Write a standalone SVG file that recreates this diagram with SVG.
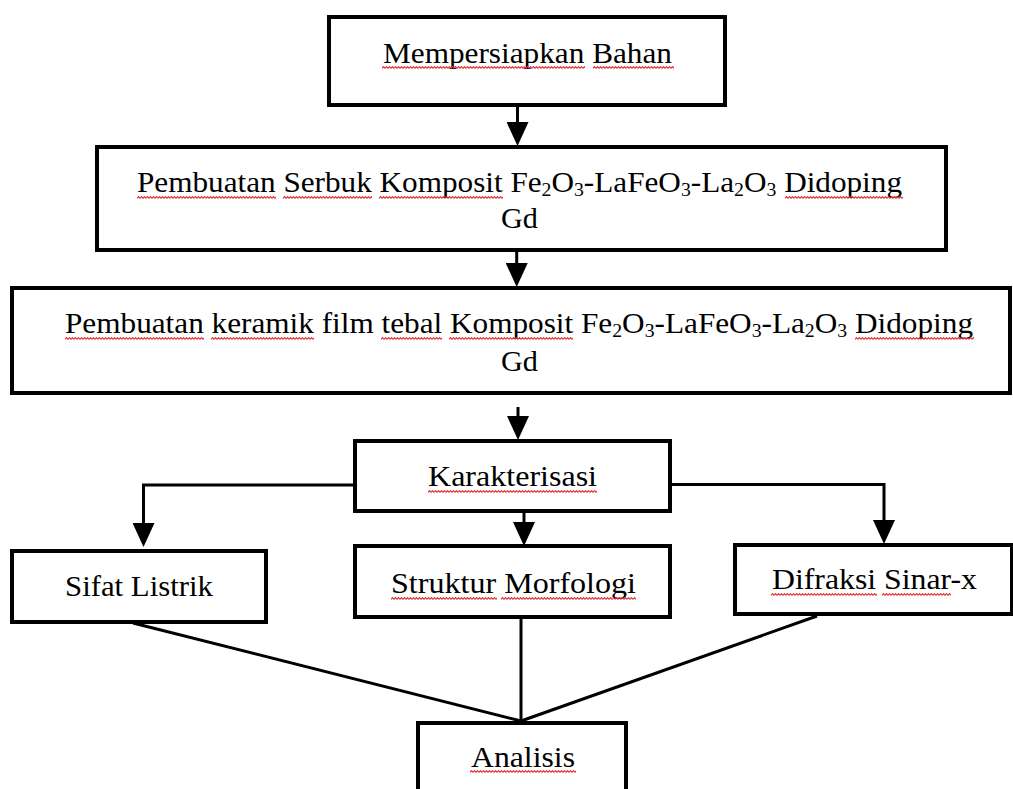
<svg xmlns="http://www.w3.org/2000/svg" width="1013" height="789" viewBox="0 0 1013 789">
  <style>
    .box { fill: #ffffff; stroke: #000000; stroke-width: 4; }
    .t { font-family: "Liberation Serif", "Times New Roman", serif; font-size: 30px; fill: #000000; }
    .sub { font-size: 19px; }
    .ln { fill: none; stroke: #000000; stroke-width: 3; }
    .sq { fill: url(#wave); }
  </style>
  <defs>
    <marker id="arr" markerUnits="userSpaceOnUse" markerWidth="24" markerHeight="22" refX="4" refY="11" orient="auto">
      <path d="M0,0 L24,11 L0,22 z" fill="#000000"/>
    </marker>
    <pattern id="wave" width="3" height="3" patternUnits="userSpaceOnUse">
      <path d="M0,2.4 L1.5,0.6 L3,2.4" fill="none" stroke="#e02b32" stroke-width="1.1"/>
    </pattern>
  </defs>
  <rect width="1013" height="789" fill="#ffffff"/>

  <g id="connectors">
    <line class="ln" x1="517.5" y1="107" x2="517.5" y2="126" marker-end="url(#arr)"/>
    <line class="ln" x1="516.7" y1="251" x2="516.7" y2="267" marker-end="url(#arr)"/>
    <line class="ln" x1="518" y1="407" x2="518" y2="420" marker-end="url(#arr)"/>
    <polyline class="ln" points="355,485 143.5,485 143.5,527" marker-end="url(#arr)"/>
    <polyline class="ln" points="670,484.5 884,484.5 884,524" marker-end="url(#arr)"/>
    <line class="ln" x1="524" y1="513" x2="524" y2="526" marker-end="url(#arr)"/>
    <line class="ln" x1="133" y1="623" x2="521" y2="721"/>
    <line class="ln" x1="521" y1="618" x2="521" y2="721"/>
    <line class="ln" x1="817" y1="616" x2="521" y2="721"/>
  </g>

  <g id="n-bahan">
    <rect class="box" x="329" y="17" width="396" height="88"/>
    <text class="t" x="383" y="63" textLength="289" lengthAdjust="spacingAndGlyphs">Mempersiapkan Bahan</text>
    <rect class="sq" transform="translate(382,66)" width="203" height="3"/>
    <rect class="sq" transform="translate(593,66)" width="81" height="3"/>
  </g>

  <g id="n-serbuk">
    <rect class="box" x="97" y="147" width="849" height="103"/>
    <text class="t" x="137" y="192" textLength="765" lengthAdjust="spacingAndGlyphs">Pembuatan Serbuk Komposit Fe<tspan class="sub" dy="4">2</tspan><tspan dy="-4">O</tspan><tspan class="sub" dy="4">3</tspan><tspan dy="-4">-LaFeO</tspan><tspan class="sub" dy="4">3</tspan><tspan dy="-4">-La</tspan><tspan class="sub" dy="4">2</tspan><tspan dy="-4">O</tspan><tspan class="sub" dy="4">3</tspan><tspan dy="-4"> Didoping</tspan></text>
    <text class="t" x="501" y="228" textLength="37" lengthAdjust="spacingAndGlyphs">Gd</text>
    <rect class="sq" transform="translate(137,196)" width="139" height="3"/>
    <rect class="sq" transform="translate(283,196)" width="89" height="3"/>
    <rect class="sq" transform="translate(379,196)" width="124" height="3"/>
    <rect class="sq" transform="translate(785,196)" width="118" height="3"/>
  </g>

  <g id="n-keramik">
    <rect class="box" x="12" y="288" width="998" height="105"/>
    <text class="t" x="65" y="333" textLength="908" lengthAdjust="spacingAndGlyphs">Pembuatan keramik film tebal Komposit Fe<tspan class="sub" dy="4">2</tspan><tspan dy="-4">O</tspan><tspan class="sub" dy="4">3</tspan><tspan dy="-4">-LaFeO</tspan><tspan class="sub" dy="4">3</tspan><tspan dy="-4">-La</tspan><tspan class="sub" dy="4">2</tspan><tspan dy="-4">O</tspan><tspan class="sub" dy="4">3</tspan><tspan dy="-4"> Didoping</tspan></text>
    <text class="t" x="501" y="371" textLength="37" lengthAdjust="spacingAndGlyphs">Gd</text>
    <rect class="sq" transform="translate(65,337)" width="139" height="3"/>
    <rect class="sq" transform="translate(211,337)" width="103" height="3"/>
    <rect class="sq" transform="translate(381,337)" width="61" height="3"/>
    <rect class="sq" transform="translate(449,337)" width="124" height="3"/>
    <rect class="sq" transform="translate(855,337)" width="119" height="3"/>
  </g>

  <g id="n-karakterisasi">
    <rect class="box" x="355" y="441" width="315" height="70"/>
    <text class="t" x="428" y="486" textLength="169" lengthAdjust="spacingAndGlyphs">Karakterisasi</text>
    <rect class="sq" transform="translate(428,490)" width="169" height="3"/>
  </g>

  <g id="n-listrik">
    <rect class="box" x="12" y="551" width="254" height="71"/>
    <text class="t" x="65" y="596" textLength="148" lengthAdjust="spacingAndGlyphs">Sifat Listrik</text>
  </g>

  <g id="n-morfologi">
    <rect class="box" x="355" y="546" width="315" height="71"/>
    <text class="t" x="391" y="593" textLength="245" lengthAdjust="spacingAndGlyphs">Struktur Morfologi</text>
    <rect class="sq" transform="translate(391,597)" width="106" height="3"/>
    <rect class="sq" transform="translate(501,597)" width="135" height="3"/>
  </g>

  <g id="n-difraksi">
    <rect class="box" x="735" y="545" width="277" height="69"/>
    <text class="t" x="772" y="589" textLength="205" lengthAdjust="spacingAndGlyphs">Difraksi Sinar-x</text>
    <rect class="sq" transform="translate(771,593)" width="106" height="3"/>
    <rect class="sq" transform="translate(882,593)" width="69" height="3"/>
  </g>

  <g id="n-analisis">
    <rect class="box" x="418" y="723" width="208" height="80"/>
    <text class="t" x="471" y="767" textLength="104" lengthAdjust="spacingAndGlyphs">Analisis</text>
    <rect class="sq" transform="translate(470,770)" width="106" height="3"/>
  </g>
</svg>
